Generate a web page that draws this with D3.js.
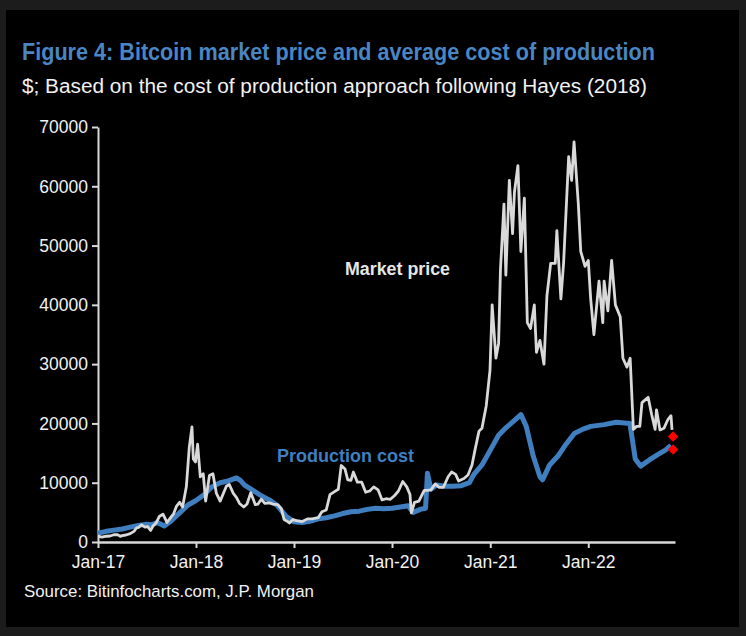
<!DOCTYPE html>
<html><head><meta charset="utf-8">
<script src="https://cdn.jsdelivr.net/npm/d3@7"></script>
<style>
html,body{margin:0;padding:0;background:#1c1c1c;}
svg{display:block;}
text{font-family:"Liberation Sans Narrow","Arial Narrow","Liberation Sans",Arial,sans-serif;}
</style></head>
<body>
<svg id="c" width="746" height="636"></svg>
<script>
// ---- data ----
const priceDates = ["2017-01-01","2017-01-15","2017-02-01","2017-02-15","2017-03-01","2017-03-15","2017-03-25","2017-04-01","2017-04-15","2017-05-01","2017-05-15","2017-05-25","2017-06-01","2017-06-12","2017-06-25","2017-07-05","2017-07-16","2017-07-25","2017-08-05","2017-08-17","2017-08-31","2017-09-15","2017-09-25","2017-10-10","2017-10-20","2017-11-01","2017-11-12","2017-11-26","2017-12-07","2017-12-17","2017-12-22","2017-12-30","2018-01-07","2018-01-17","2018-01-28","2018-02-06","2018-02-20","2018-03-05","2018-03-18","2018-04-01","2018-04-24","2018-05-05","2018-05-20","2018-06-01","2018-06-12","2018-06-28","2018-07-10","2018-07-24","2018-08-10","2018-08-20","2018-09-01","2018-09-15","2018-10-01","2018-10-15","2018-11-01","2018-11-15","2018-11-25","2018-12-10","2018-12-15","2018-12-28","2019-01-10","2019-02-01","2019-02-20","2019-03-10","2019-04-01","2019-04-15","2019-05-01","2019-05-15","2019-06-01","2019-06-15","2019-06-26","2019-07-10","2019-07-20","2019-08-01","2019-08-10","2019-08-25","2019-09-10","2019-09-25","2019-10-10","2019-10-25","2019-11-10","2019-11-25","2019-12-10","2019-12-25","2020-01-10","2020-01-25","2020-02-10","2020-02-25","2020-03-08","2020-03-13","2020-03-25","2020-04-10","2020-04-30","2020-05-10","2020-05-25","2020-06-10","2020-06-25","2020-07-10","2020-07-28","2020-08-10","2020-08-25","2020-09-05","2020-09-25","2020-10-10","2020-10-25","2020-11-05","2020-11-20","2020-12-01","2020-12-17","2020-12-31","2021-01-08","2021-01-22","2021-02-01","2021-02-08","2021-02-21","2021-02-28","2021-03-13","2021-03-25","2021-04-01","2021-04-14","2021-04-25","2021-05-08","2021-05-19","2021-05-31","2021-06-14","2021-06-22","2021-07-05","2021-07-20","2021-07-31","2021-08-14","2021-08-31","2021-09-06","2021-09-21","2021-10-01","2021-10-20","2021-10-31","2021-11-09","2021-11-25","2021-12-04","2021-12-20","2022-01-01","2022-01-10","2022-01-22","2022-02-10","2022-02-24","2022-03-01","2022-03-15","2022-03-29","2022-04-12","2022-04-30","2022-05-10","2022-05-25","2022-06-06","2022-06-18","2022-06-30","2022-07-12","2022-07-20","2022-08-12","2022-08-25","2022-09-07","2022-09-12","2022-09-25","2022-10-10","2022-10-25","2022-11-05","2022-11-09"];
const priceValues = [990,820,970,1010,1220,1250,950,1080,1180,1420,1800,2400,2450,2900,2500,2600,1950,2700,3200,4300,4700,3300,3900,4800,6000,6700,5900,9300,16000,19400,14000,13500,16500,11000,11500,6900,11200,11500,8200,6900,9400,9700,8200,7500,6500,5900,6400,8300,6300,6400,7200,6500,6600,6400,6300,5600,3800,3400,3200,3800,3600,3450,3900,3900,4100,5100,5400,8000,8500,8900,12900,12300,10500,10400,11800,10100,10100,8400,8600,9300,8800,7100,7300,7200,7800,8600,10200,9300,8000,4900,6700,6900,8700,8700,8800,9800,9200,9200,11000,11800,11400,10300,10700,11300,13000,15500,18700,19200,23000,29000,40000,31000,33500,46000,57000,45000,61000,52000,59000,63500,49000,58000,37000,36000,40000,32000,34000,30000,41500,47000,47000,52500,41000,47000,65000,61000,67500,57000,49000,46500,47500,41000,35000,44000,37000,44000,39000,47500,40000,38000,31000,29500,31000,19000,19500,19500,23500,24400,21500,19000,22300,18900,19200,20700,21300,18900];

const costDates = ["2017-01-01","2017-02-01","2017-03-01","2017-04-01","2017-05-01","2017-06-01","2017-07-01","2017-07-20","2017-08-10","2017-09-05","2017-10-01","2017-11-01","2017-12-01","2018-01-01","2018-02-01","2018-03-01","2018-04-01","2018-05-01","2018-06-01","2018-06-15","2018-07-01","2018-08-01","2018-09-01","2018-10-01","2018-11-01","2018-12-01","2019-01-01","2019-02-01","2019-03-01","2019-04-01","2019-05-01","2019-06-01","2019-07-01","2019-08-01","2019-09-01","2019-10-01","2019-11-01","2019-12-01","2020-01-01","2020-02-01","2020-03-01","2020-03-20","2020-04-15","2020-05-05","2020-05-12","2020-05-25","2020-06-15","2020-07-15","2020-08-15","2020-09-15","2020-10-15","2020-11-01","2020-12-01","2021-01-01","2021-02-01","2021-03-01","2021-04-01","2021-04-25","2021-05-15","2021-06-10","2021-07-05","2021-07-15","2021-08-10","2021-09-10","2021-10-10","2021-11-10","2021-12-10","2022-01-10","2022-03-01","2022-04-15","2022-06-05","2022-06-15","2022-06-25","2022-07-15","2022-08-15","2022-09-15","2022-10-15","2022-11-05"];
const costValues = [1500,1800,2000,2200,2500,2800,3000,2900,3300,2700,3600,4900,6200,7000,8000,9300,10000,10300,10800,10400,9600,8700,7800,7100,6100,4400,3400,3300,3500,3900,4100,4400,4800,5100,5200,5500,5700,5600,5700,5900,6100,5000,5500,5700,11600,8900,9600,9400,9400,9500,10000,11400,13000,15500,18000,19300,20500,21500,19500,14500,11000,10500,13000,14500,16500,18300,19000,19500,19800,20200,20000,17000,14000,12800,13800,14700,15500,16300];

const estimateDates = ["2022-11-09","2022-11-09"];
const estimateValues = [17800, 15600];

const yTicks = [0,10000,20000,30000,40000,50000,60000,70000];
const xTickLabels = ["Jan-17","Jan-18","Jan-19","Jan-20","Jan-21","Jan-22"];

// ---- chart ----
const parse = d3.timeParse("%Y-%m-%d");
const price = priceDates.map((d,i)=>({date:parse(d), v:priceValues[i]}));
const cost = costDates.map((d,i)=>({date:parse(d), v:costValues[i]}));
const est = estimateDates.map((d,i)=>({date:parse(d), v:estimateValues[i]}));

const svg = d3.select("#c");
svg.append("rect").attr("x",6).attr("y",10).attr("width",733).attr("height",617).attr("fill","#000");

const x = d3.scaleTime().domain([parse("2017-01-01"), parse("2022-11-20")]).range([98, 675]);
const y = d3.scaleLinear().domain([0,70000]).range([542,127]);

const axisColor = "#d9d9d9";
const textColor = "#f2f2f2";
const ff = '"Liberation Sans Narrow","Arial Narrow","Liberation Sans",Arial,sans-serif';

// y axis
const yAxis = svg.append("g").attr("transform","translate(98,0)")
  .call(d3.axisLeft(y).tickValues(yTicks).tickSize(6).tickSizeOuter(0).tickFormat(d3.format("d")));
yAxis.select(".domain").attr("stroke",axisColor).attr("stroke-width",2);
yAxis.selectAll(".tick line").attr("stroke",axisColor).attr("stroke-width",2);
yAxis.selectAll(".tick text").attr("fill",textColor).attr("font-size",17.5).attr("font-family",ff)
  .attr("x",-10).attr("dy","0.33em");

// x axis
const xTickDates = xTickLabels.map(s=>d3.timeParse("%b-%y")(s));
const xAxis = svg.append("g").attr("transform","translate(0,542)")
  .call(d3.axisBottom(x).tickValues(xTickDates).tickSize(6).tickSizeOuter(0).tickFormat((d,i)=>xTickLabels[i]));
xAxis.select(".domain").attr("stroke",axisColor).attr("stroke-width",2.5);
xAxis.selectAll(".tick line").attr("stroke",axisColor).attr("stroke-width",2);
xAxis.selectAll(".tick text").attr("fill",textColor).attr("font-size",17.5).attr("font-family",ff)
  .attr("y",0).attr("dy",0).attr("transform","translate(0,26)");

const line = d3.line().x(d=>x(d.date)).y(d=>y(d.v));
svg.append("path").datum(cost).attr("d",line).attr("fill","none")
  .attr("stroke","#3f7fc0").attr("stroke-width",5).attr("stroke-linejoin","round");
svg.append("path").datum(price).attr("d",line).attr("fill","none")
  .attr("stroke","#d9d9d9").attr("stroke-width",2.8).attr("stroke-linejoin","round");

svg.selectAll(".est").data(est).enter().append("path").attr("class","est")
  .attr("transform",d=>`translate(${x(d.date)+1},${y(d.v)})`)
  .attr("d",d3.symbol().type(d3.symbolDiamond2).size(70)).attr("fill","#ff0000");

// texts
function fitText(sel, w){ sel.attr("textLength",w).attr("lengthAdjust","spacingAndGlyphs"); return sel; }
fitText(svg.append("text").attr("x",22).attr("y",60).attr("font-size",23).attr("font-weight","bold")
  .attr("fill","#4a86c4").text("Figure 4: Bitcoin market price and average cost of production"),633);
fitText(svg.append("text").attr("x",22).attr("y",93).attr("font-size",20)
  .attr("fill",textColor).text("$; Based on the cost of production approach following Hayes (2018)"),625);
fitText(svg.append("text").attr("x",24).attr("y",597).attr("font-size",17)
  .attr("fill",textColor).text("Source: Bitinfocharts.com, J.P. Morgan"),290);
fitText(svg.append("text").attr("x",345).attr("y",275).attr("font-size",18).attr("font-weight","bold")
  .attr("fill","#e6e6e6").text("Market price"),105);
fitText(svg.append("text").attr("x",277).attr("y",462).attr("font-size",19).attr("font-weight","bold")
  .attr("fill","#3f7fc0").text("Production cost"),137);
</script>
</body></html>
